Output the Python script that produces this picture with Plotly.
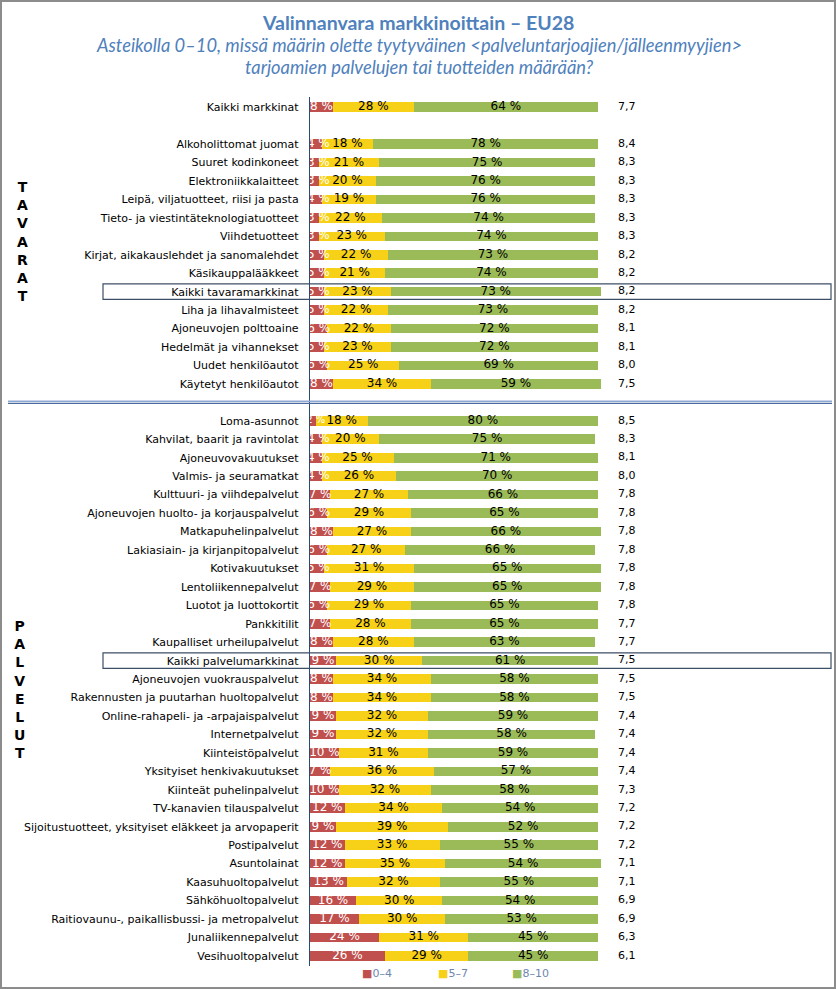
import plotly.graph_objects as go

# ---------------- data ----------------
overall_names = ["Kaikki markkinat"]
overall_low = [8]
overall_mid = [28]
overall_high = [64]
overall_score = [7.7]

goods_names = [
    "Alkoholittomat juomat", "Suuret kodinkoneet", "Elektroniikkalaitteet",
    "Leipä, viljatuotteet, riisi ja pasta", "Tieto- ja viestintäteknologiatuotteet",
    "Viihdetuotteet", "Kirjat, aikakauslehdet ja sanomalehdet", "Käsikauppalääkkeet",
    "Kaikki tavaramarkkinat", "Liha ja lihavalmisteet", "Ajoneuvojen polttoaine",
    "Hedelmät ja vihannekset", "Uudet henkilöautot", "Käytetyt henkilöautot",
]
goods_low = [4, 3, 3, 4, 3, 3, 5, 5, 5, 5, 6, 5, 6, 8]
goods_mid = [18, 21, 20, 19, 22, 23, 22, 21, 23, 22, 22, 23, 25, 34]
goods_high = [78, 75, 76, 76, 74, 74, 73, 74, 73, 73, 72, 72, 69, 59]
goods_score = [8.4, 8.3, 8.3, 8.3, 8.3, 8.3, 8.2, 8.2, 8.2, 8.2, 8.1, 8.1, 8.0, 7.5]

services_names = [
    "Loma-asunnot", "Kahvilat, baarit ja ravintolat", "Ajoneuvovakuutukset",
    "Valmis- ja seuramatkat", "Kulttuuri- ja viihdepalvelut",
    "Ajoneuvojen huolto- ja korjauspalvelut", "Matkapuhelinpalvelut",
    "Lakiasiain- ja kirjanpitopalvelut", "Kotivakuutukset", "Lentoliikennepalvelut",
    "Luotot ja luottokortit", "Pankkitilit", "Kaupalliset urheilupalvelut",
    "Kaikki palvelumarkkinat", "Ajoneuvojen vuokrauspalvelut",
    "Rakennusten ja puutarhan huoltopalvelut", "Online-rahapeli- ja -arpajaispalvelut",
    "Internetpalvelut", "Kiinteistöpalvelut", "Yksityiset henkivakuutukset",
    "Kiinteät puhelinpalvelut", "TV-kanavien tilauspalvelut",
    "Sijoitustuotteet, yksityiset eläkkeet ja arvopaperit", "Postipalvelut",
    "Asuntolainat", "Kaasuhuoltopalvelut", "Sähköhuoltopalvelut",
    "Raitiovaunu-, paikallisbussi- ja metropalvelut", "Junaliikennepalvelut",
    "Vesihuoltopalvelut",
]
services_low = [2, 4, 4, 4, 7, 6, 8, 6, 5, 7, 6, 7, 8, 9, 8, 8, 9, 9, 10, 7, 10, 12, 9, 12, 12, 13, 16, 17, 24, 26]
services_mid = [18, 20, 25, 26, 27, 29, 27, 27, 31, 29, 29, 28, 28, 30, 34, 34, 32, 32, 31, 36, 32, 34, 39, 33, 35, 32, 30, 30, 31, 29]
services_high = [80, 75, 71, 70, 66, 65, 66, 66, 65, 65, 65, 65, 63, 61, 58, 58, 59, 58, 59, 57, 58, 54, 52, 55, 54, 55, 54, 53, 45, 45]
services_score = [8.5, 8.3, 8.1, 8.0, 7.8, 7.8, 7.8, 7.8, 7.8, 7.8, 7.8, 7.7, 7.7, 7.5, 7.5, 7.5, 7.4, 7.4, 7.4, 7.4, 7.3, 7.2, 7.2, 7.2, 7.1, 7.1, 6.9, 6.9, 6.3, 6.1]

series_names = ["0–4", "5–7", "8–10"]
group_labels = ["TAVARAT", "PALVELUT"]
title_text = "Valinnanvara markkinoittain – EU28"
subtitle_lines = [
    "Asteikolla 0–10, missä määrin olette tyytyväinen &lt;palveluntarjoajien/jälleenmyyjien&gt;",
    "tarjoamien palvelujen tai tuotteiden määrään?",
]

# ---------------- layout helpers ----------------
RED, YELLOW, GREEN = "#C0504D", "#F7D117", "#9BBB59"
FONT = "DejaVu Sans"
W, H = 836, 989
X_MAX = 125
PX_PER_PCT = 2.88
ML, MT, MB = 310, 97, 23
PW = X_MAX * PX_PER_PCT
MR = W - ML - PW
PH = H - MT - MB
Y_LO, Y_HI = -0.55, 46.55

names = overall_names + goods_names + services_names
low = overall_low + goods_low + services_low
mid = overall_mid + goods_mid + services_mid
high = overall_high + goods_high + services_high
score = overall_score + goods_score + services_score

g0 = len(overall_names) + 1
s0 = g0 + len(goods_names) + 1
slots = list(range(len(overall_names))) + \
    [g0 + i for i in range(len(goods_names))] + \
    [s0 + i for i in range(len(services_names))]


def px_x(px):
    return (px - ML) / PW


def px_y(py):
    return (H - MB - py) / PH


def slot_y(s):
    return 1 - (s - Y_LO) / (Y_HI - Y_LO)


fig = go.Figure()
for vals, nm, col in zip([low, mid, high], series_names, [RED, YELLOW, GREEN]):
    fig.add_trace(go.Bar(
        y=slots, x=vals, orientation="h", name=nm, marker_color=col,
        marker_line_width=0, width=0.52, hoverinfo="skip", showlegend=False,
    ))

mid_start = low
high_start = [a + b for a, b in zip(low, mid)]
label_sets = [
    ([max(v / 2, min(2.9, v)) for v in low], low, "white", [10 if v < 3 else 12 for v in low]),
    ([s + v / 2 for s, v in zip(mid_start, mid)], mid, "black", 12),
    ([s + v / 2 for s, v in zip(high_start, high)], high, "black", 12),
]
for xs, vals, col, sz in label_sets:
    fig.add_trace(go.Scatter(
        x=xs, y=slots, mode="text",
        text=[f"{v} %" for v in vals], textposition="middle center",
        textfont=dict(family=FONT, size=sz, color=col),
        showlegend=False, hoverinfo="skip",
    ))

fig.add_trace(go.Scatter(
    x=[110] * len(score), y=slots, mode="text",
    text=[f"{v:.1f}".replace(".", ",") for v in score],
    textfont=dict(family=FONT, size=11, color="black"),
    showlegend=False, hoverinfo="skip",
))

shapes = []
# highlight boxes
for nm in ["Kaikki tavaramarkkinat", "Kaikki palvelumarkkinat"]:
    s = slots[names.index(nm)]
    shapes.append(dict(type="rect", xref="paper", yref="paper",
                       x0=px_x(103), x1=px_x(831),
                       y0=slot_y(s + 0.42), y1=slot_y(s - 0.42),
                       line=dict(color="#3C4F66", width=1.2)))
# separator double line
sep = s0 - 1
shapes.append(dict(type="line", xref="paper", yref="paper", x0=px_x(8), x1=px_x(832),
                   y0=slot_y(sep - 0.06), y1=slot_y(sep - 0.06),
                   line=dict(color="#8EA8D4", width=1.6)))
shapes.append(dict(type="line", xref="paper", yref="paper", x0=px_x(8), x1=px_x(832),
                   y0=slot_y(sep + 0.06), y1=slot_y(sep + 0.06),
                   line=dict(color="#4A6A9E", width=1.2)))
# outer frame
shapes.append(dict(type="rect", xref="paper", yref="paper",
                   x0=px_x(1), x1=px_x(835), y0=px_y(988), y1=px_y(1),
                   line=dict(color="#8C8C8C", width=2)))

annotations = [
    dict(text=f"<b>{title_text}</b>", xref="paper", yref="paper",
         x=px_x(418), y=px_y(22), showarrow=False, xanchor="center", yanchor="middle",
         font=dict(family="Lato", size=19.5, color="#4F81BD")),
    dict(text=f"<i>{subtitle_lines[0]}</i>", xref="paper", yref="paper",
         x=px_x(419), y=px_y(45), showarrow=False, xanchor="center", yanchor="middle",
         font=dict(family="Lato", size=18.3, color="#4F81BD")),
    dict(text=f"<i>{subtitle_lines[1]}</i>", xref="paper", yref="paper",
         x=px_x(419), y=px_y(67), showarrow=False, xanchor="center", yanchor="middle",
         font=dict(family="Lato", size=18.3, color="#4F81BD")),
    dict(text="<b>" + "<br>".join(group_labels[0]) + "</b>", xref="paper", yref="paper",
         x=px_x(22), y=px_y(241), showarrow=False, xanchor="center", yanchor="middle",
         font=dict(family=FONT, size=14, color="black")),
    dict(text="<b>" + "<br>".join(group_labels[1]) + "</b>", xref="paper", yref="paper",
         x=px_x(19), y=px_y(690), showarrow=False, xanchor="center", yanchor="middle",
         font=dict(family=FONT, size=14, color="black")),
]
# legend drawn as text entries
for nm, col, lx in zip(series_names, [RED, YELLOW, GREEN], [360, 436, 510]):
    annotations.append(dict(
        text=f"<span style='color:{col}'>■</span>{nm}", xref="paper", yref="paper",
        x=px_x(lx), y=px_y(973), showarrow=False, xanchor="left", yanchor="middle",
        font=dict(family=FONT, size=11, color="#6F86AD")))

fig.update_layout(
    width=W, height=H, autosize=False,
    margin=dict(l=ML, r=MR, t=MT, b=MB, pad=0),
    paper_bgcolor="white", plot_bgcolor="white",
    barmode="stack", bargap=0, showlegend=False,
    xaxis=dict(range=[0, X_MAX], visible=False, fixedrange=True),
    yaxis=dict(range=[Y_HI, Y_LO], tickvals=slots, ticktext=names,
               showline=True, linecolor="#2B4A72", linewidth=1.3, ticks="",
               showgrid=False, zeroline=False, ticklabelstandoff=8,
               tickfont=dict(family=FONT, size=11, color="black"), fixedrange=True),
    shapes=shapes, annotations=annotations,
)

fig.write_html("out.html", config={"displayModeBar": False},
               post_script="document.body.style.margin='0px';")
